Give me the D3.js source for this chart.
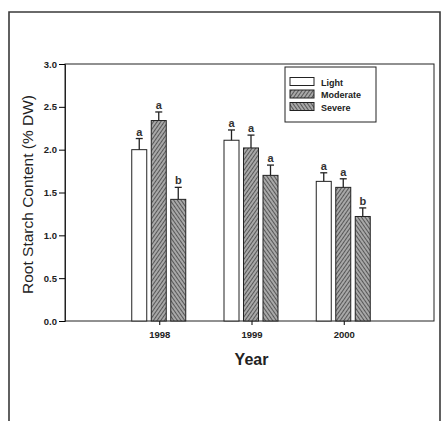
<!DOCTYPE html>
<html>
<head>
<meta charset="utf-8">
<script src="https://cdn.jsdelivr.net/npm/d3@7"></script>
<style>
  body { margin: 0; background: #fff; }
  svg { display: block; font-family: "Liberation Sans", Arial, sans-serif; }
</style>
</head>
<body>
<div id="chart"></div>
<script>
// chart data
var years = [1998, 1999, 2000];
var levels = ["Light", "Moderate", "Severe"];
var light = [2.00, 2.11, 1.63];
var moderate = [2.34, 2.02, 1.56];
var severe = [1.42, 1.70, 1.22];
var lightErr = [0.13, 0.12, 0.10];
var moderateErr = [0.10, 0.15, 0.10];
var severeErr = [0.14, 0.12, 0.10];
var lightSig = ["a", "a", "a"];
var moderateSig = ["a", "a", "a"];
var severeSig = ["b", "a", "b"];
var yTicks = [0, 0.5, 1.0, 1.5, 2.0, 2.5, 3.0];

var width = 442, height = 421;

var svg = d3.select("#chart")
  .append("svg")
    .attr("width", width)
    .attr("height", height);

// hatch patterns
var defs = svg.append("defs");
function hatch(id, angle) {
  var p = defs.append("pattern")
    .attr("id", id)
    .attr("width", 3)
    .attr("height", 3)
    .attr("patternUnits", "userSpaceOnUse")
    .attr("patternTransform", "rotate(" + angle + ")");
  p.append("rect").attr("width", 3).attr("height", 3).attr("fill", "#a8a8a8");
  p.append("line")
    .attr("x1", 0).attr("y1", 0).attr("x2", 0).attr("y2", 3)
    .attr("stroke", "#2a2a2a").attr("stroke-width", 1.3);
}
hatch("hModerate", 35);
hatch("hSevere", -35);
var fills = ["#fff", "url(#hModerate)", "url(#hSevere)"];

// outer scan frame
svg.append("path")
  .attr("d", "M9,421 L9,12 L440,12 L440,421")
  .attr("fill", "none")
  .attr("stroke", "#3a3a3a")
  .attr("stroke-width", 1.6);

var x = d3.scaleLinear().domain([1997, 2001]).range([67, 436]);
var y = d3.scaleLinear().domain([0, 3]).range([321, 64]);

// plot box
svg.append("rect")
  .attr("x", x(1997) - 2).attr("y", y(3))
  .attr("width", x(2001) - x(1997))
  .attr("height", y(0) - y(3))
  .attr("fill", "none")
  .attr("stroke", "#222")
  .attr("stroke-width", 1);

// y axis
var yAxis = svg.append("g")
  .attr("transform", "translate(" + (x(1997) - 2) + ",0)")
  .call(d3.axisLeft(y).tickValues(yTicks).tickFormat(d3.format(".1f")).tickSize(6).tickPadding(2));
yAxis.select(".domain").attr("stroke", "#222");
yAxis.selectAll("text").attr("font-size", 9.5).attr("font-weight", "bold").attr("fill", "#222")
  .attr("font-family", "Liberation Sans, Arial, sans-serif");

// x axis
var xAxis = svg.append("g")
  .attr("transform", "translate(0," + y(0) + ")")
  .call(d3.axisBottom(x).tickValues(years).tickFormat(d3.format("d")).tickSize(4).tickPadding(6));
xAxis.select(".domain").remove();
xAxis.selectAll("text").attr("font-size", 9.5).attr("font-weight", "bold").attr("fill", "#222")
  .attr("font-family", "Liberation Sans, Arial, sans-serif");

// bars
var barW = 15, step = 19.5;
var series = [
  { vals: light, err: lightErr, sig: lightSig },
  { vals: moderate, err: moderateErr, sig: moderateSig },
  { vals: severe, err: severeErr, sig: severeSig }
];
var rows = [];
series.forEach(function(s, j) {
  years.forEach(function(yr, i) {
    rows.push({ year: yr, j: j, v: s.vals[i], e: s.err[i], sig: s.sig[i] });
  });
});
function cx(d) { return x(d.year) - 0.5 + (d.j - 1) * step; }

var g = svg.append("g");
g.selectAll("rect.bar")
  .data(rows)
  .enter()
  .append("rect")
    .attr("class", "bar")
    .attr("x", function(d) { return cx(d) - barW / 2; })
    .attr("y", function(d) { return y(d.v); })
    .attr("width", barW)
    .attr("height", function(d) { return y(0) - y(d.v); })
    .attr("fill", function(d) { return fills[d.j]; })
    .attr("stroke", "#222")
    .attr("stroke-width", 1);

g.selectAll("line.err")
  .data(rows)
  .enter()
  .append("line")
    .attr("x1", cx).attr("x2", cx)
    .attr("y1", function(d) { return y(d.v); })
    .attr("y2", function(d) { return y(d.v + d.e); })
    .attr("stroke", "#222").attr("stroke-width", 1.3);

g.selectAll("line.cap")
  .data(rows)
  .enter()
  .append("line")
    .attr("x1", function(d) { return cx(d) - 3.5; })
    .attr("x2", function(d) { return cx(d) + 3.5; })
    .attr("y1", function(d) { return y(d.v + d.e); })
    .attr("y2", function(d) { return y(d.v + d.e); })
    .attr("stroke", "#222").attr("stroke-width", 1.3);

g.selectAll("text.sig")
  .data(rows)
  .enter()
  .append("text")
    .attr("x", cx)
    .attr("y", function(d) { return y(d.v + d.e) - 3; })
    .attr("text-anchor", "middle")
    .attr("font-size", 11)
    .attr("font-weight", "bold")
    .attr("fill", "#333")
    .text(function(d) { return d.sig; });

// legend
var lg = svg.append("g").attr("transform", "translate(285,67)");
lg.append("rect").attr("width", 91).attr("height", 55)
  .attr("fill", "#fff").attr("stroke", "#222").attr("stroke-width", 1);
levels.forEach(function(name, j) {
  var yy = 15 + j * 12.5;
  lg.append("rect").attr("x", 5).attr("y", yy - 4.5).attr("width", 24).attr("height", 8)
    .attr("fill", fills[j]).attr("stroke", "#222").attr("stroke-width", 1);
  lg.append("text").attr("x", 36).attr("y", yy + 3.5)
    .attr("font-size", 9).attr("font-weight", "bold").attr("fill", "#222")
    .text(name);
});

// axis titles
svg.append("text")
  .attr("transform", "translate(33," + ((y(0) + y(3)) / 2 + 2) + ") rotate(-90)")
  .attr("text-anchor", "middle")
  .attr("font-size", 15.5)
  .attr("fill", "#222")
  .text("Root Starch Content (% DW)");

svg.append("text")
  .attr("x", x(1999))
  .attr("y", 365)
  .attr("text-anchor", "middle")
  .attr("font-size", 16)
  .attr("font-weight", "bold")
  .attr("fill", "#222")
  .text("Year");
</script>
</body>
</html>
